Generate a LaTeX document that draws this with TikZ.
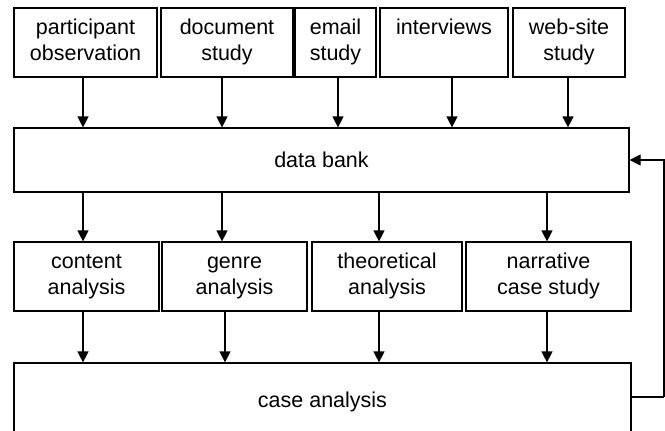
\documentclass[tikz,border=0pt]{standalone}
\usepackage{fontspec}
\setmainfont{Liberation Sans}
\usetikzlibrary{arrows.meta}
\begin{document}
\begin{tikzpicture}[x=1pt,y=-1pt,
  box/.style={draw,line width=1.2pt,inner sep=0pt,align=center,
    font=\fontsize{21.5}{26}\selectfont},
  arr/.style={line width=1.2pt,-{Triangle[length=11pt,width=11pt]}},
  line/.style={line width=1.2pt}]
\useasboundingbox (0,0) rectangle (665,431);
\clip (0,0) rectangle (665,431);
% top row
\node[box,minimum width=143,minimum height=69] (b1) at (85.5,42.5) {\strut participant\\\strut observation};
\node[box,minimum width=132,minimum height=69] (b2) at (227,42.5) {\strut document\\\strut study};
\node[box,minimum width=81,minimum height=69] (b3) at (335.5,42.5) {\strut email\\\strut study};
\node[box,minimum width=128,minimum height=69] (b4) at (444,42.5) {\strut interviews\\\strut};
\node[box,minimum width=112,minimum height=69] (b5) at (569,42.5) {\strut web-site\\\strut study};
% data bank
\node[box,minimum width=615,minimum height=64] (bank) at (321.5,160) {data bank};
% middle row
\node[box,minimum width=145,minimum height=69] (m1) at (86.5,276.5) {\strut content\\\strut analysis};
\node[box,minimum width=145,minimum height=69] (m2) at (234.5,276.5) {\strut genre\\\strut analysis};
\node[box,minimum width=150,minimum height=69] (m3) at (387,276.5) {\strut theoretical\\\strut analysis};
\node[box,minimum width=165,minimum height=69] (m4) at (548.5,276.5) {\strut narrative\\\strut case study};
% case analysis
\node[box,minimum width=617,minimum height=78] (case) at (322.5,402) {case analysis};
% arrows top -> bank
\draw[arr] ([xshift=-2.5]b1.south) -- ([xshift=-2.5]b1.south |- bank.north);
\draw[arr] ([xshift=-5]b2.south) -- ([xshift=-5]b2.south |- bank.north);
\draw[arr] ([xshift=2.5]b3.south) -- ([xshift=2.5]b3.south |- bank.north);
\draw[arr] ([xshift=8]b4.south) -- ([xshift=8]b4.south |- bank.north);
\draw[arr] ([xshift=-1]b5.south) -- ([xshift=-1]b5.south |- bank.north);
% bank -> middle
\draw[arr] ([xshift=-3.5]m1.north |- bank.south) -- ([xshift=-3.5]m1.north);
\draw[arr] ([xshift=-12.5]m2.north |- bank.south) -- ([xshift=-12.5]m2.north);
\draw[arr] ([xshift=-8]m3.north |- bank.south) -- ([xshift=-8]m3.north);
\draw[arr] ([xshift=-1.5]m4.north |- bank.south) -- ([xshift=-1.5]m4.north);
% middle -> case
\draw[arr] ([xshift=-3.5]m1.south) -- ([xshift=-3.5]m1.south |- case.north);
\draw[arr] ([xshift=-9.5]m2.south) -- ([xshift=-9.5]m2.south |- case.north);
\draw[arr] ([xshift=-8]m3.south) -- ([xshift=-8]m3.south |- case.north);
\draw[arr] ([xshift=-1.5]m4.south) -- ([xshift=-1.5]m4.south |- case.north);
% feedback
\coordinate (fb) at (664,397);
\draw[line] (case.east |- fb) -- (fb);
\draw[arr] (fb) |- (bank.east);
\end{tikzpicture}
\end{document}
